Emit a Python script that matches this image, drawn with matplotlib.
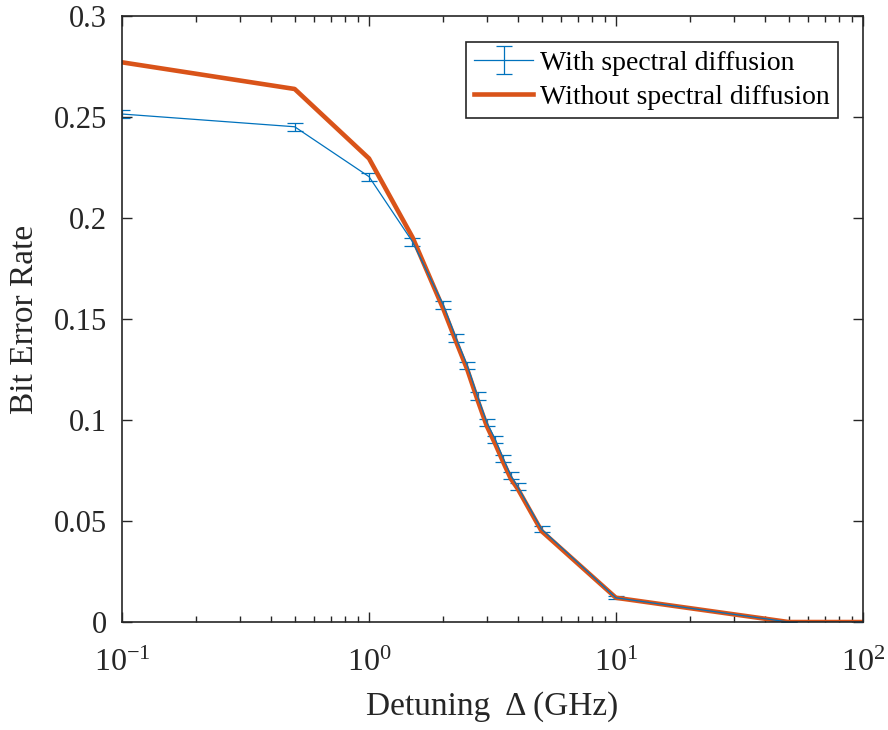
import numpy as np
import matplotlib.pyplot as plt
from matplotlib.ticker import LogLocator, FixedLocator, FixedFormatter, NullFormatter

detuning = [0.1, 0.5, 1, 1.5, 2, 2.25, 2.5, 2.75, 3, 3.25, 3.5, 3.75, 4, 5, 10, 50, 100]
ber_diff = [0.2515, 0.2452, 0.2205, 0.1883, 0.1570, 0.1407, 0.1270, 0.1119,
            0.0988, 0.0903, 0.0809, 0.0726, 0.0670, 0.0459, 0.0120, 0.0, 0.0]
ber_err = [0.0021, 0.0021, 0.0020, 0.0020, 0.0020, 0.0019, 0.0019, 0.0018,
           0.0018, 0.0017, 0.0017, 0.0017, 0.0016, 0.0014, 0.0008, 0.0, 0.0]
ber_nodiff = [0.2771, 0.2639, 0.2295, 0.1905, 0.1550, 0.1390, 0.1250, 0.1100,
              0.0970, 0.0880, 0.0790, 0.0710, 0.0660, 0.0450, 0.0120, 0.0, 0.0]

xticks = [0.1, 1, 10, 100]
xticklabels = ["$\\mathregular{10^{-1}}$", "$\\mathregular{10^{0}}$",
               "$\\mathregular{10^{1}}$", "$\\mathregular{10^{2}}$"]
yticks = [0, 0.05, 0.1, 0.15, 0.2, 0.25, 0.3]
yticklabels = ["0", "0.05", "0.1", "0.15", "0.2", "0.25", "0.3"]

blue = "#0072BD"
orange = "#D95319"

plt.rcParams['font.family'] = ['Liberation Serif', 'DejaVu Serif']
plt.rcParams['mathtext.fontset'] = 'custom'
plt.rcParams['mathtext.rm'] = 'Liberation Serif'

fig = plt.figure(figsize=(8.88, 7.3), dpi=100)
ax = fig.add_axes([0.1374, 0.1479, 0.8344, 0.8301])

eb = ax.errorbar(detuning, ber_diff, yerr=ber_err, color=blue, lw=0.9,
                 capsize=6, elinewidth=0.9, capthick=0.9,
                 label="With spectral diffusion")
ln, = ax.plot(detuning, ber_nodiff, color=orange, lw=3.3,
              label="Without spectral diffusion")

ax.set_xscale("log")
ax.set_xlim(0.1, 100)
ax.set_ylim(0, 0.3)
ax.yaxis.set_major_locator(FixedLocator(yticks))
ax.yaxis.set_major_formatter(FixedFormatter(yticklabels))
ax.xaxis.set_major_locator(FixedLocator(xticks))
ax.xaxis.set_major_formatter(FixedFormatter(xticklabels))
ax.xaxis.set_minor_locator(LogLocator(base=10, subs=np.arange(2, 10), numticks=10))
ax.xaxis.set_minor_formatter(NullFormatter())

ax.tick_params(which="both", direction="in", top=True, right=True,
               width=1.0, colors="#262626")
ax.tick_params(which="major", length=7)
ax.tick_params(which="minor", length=4)
ax.tick_params(axis="y", labelsize=22, pad=11)
ax.tick_params(axis="x", labelsize=23, pad=19)
for tl in ax.get_xticklabels() + ax.get_yticklabels():
    tl.set_color("#262626")
for sp in ax.spines.values():
    sp.set_linewidth(1.2)
    sp.set_color("#262626")

ax.set_xlabel("Detuning  \u0394 (GHz)", fontsize=24, color="#262626", labelpad=10)
ax.set_ylabel("Bit Error Rate", fontsize=24, color="#262626", labelpad=10)

leg = ax.legend([eb, ln], ["With spectral diffusion", "Without spectral diffusion"],
                loc="upper right", fontsize=20, fancybox=False, framealpha=1,
                edgecolor="#262626", borderpad=0.3, handlelength=2.1,
                labelspacing=0.3, handletextpad=0.25, borderaxespad=0.0,
                bbox_to_anchor=(0.966, 0.957))
leg.get_frame().set_linewidth(1.2)

fig.savefig("out.png", dpi=100)
